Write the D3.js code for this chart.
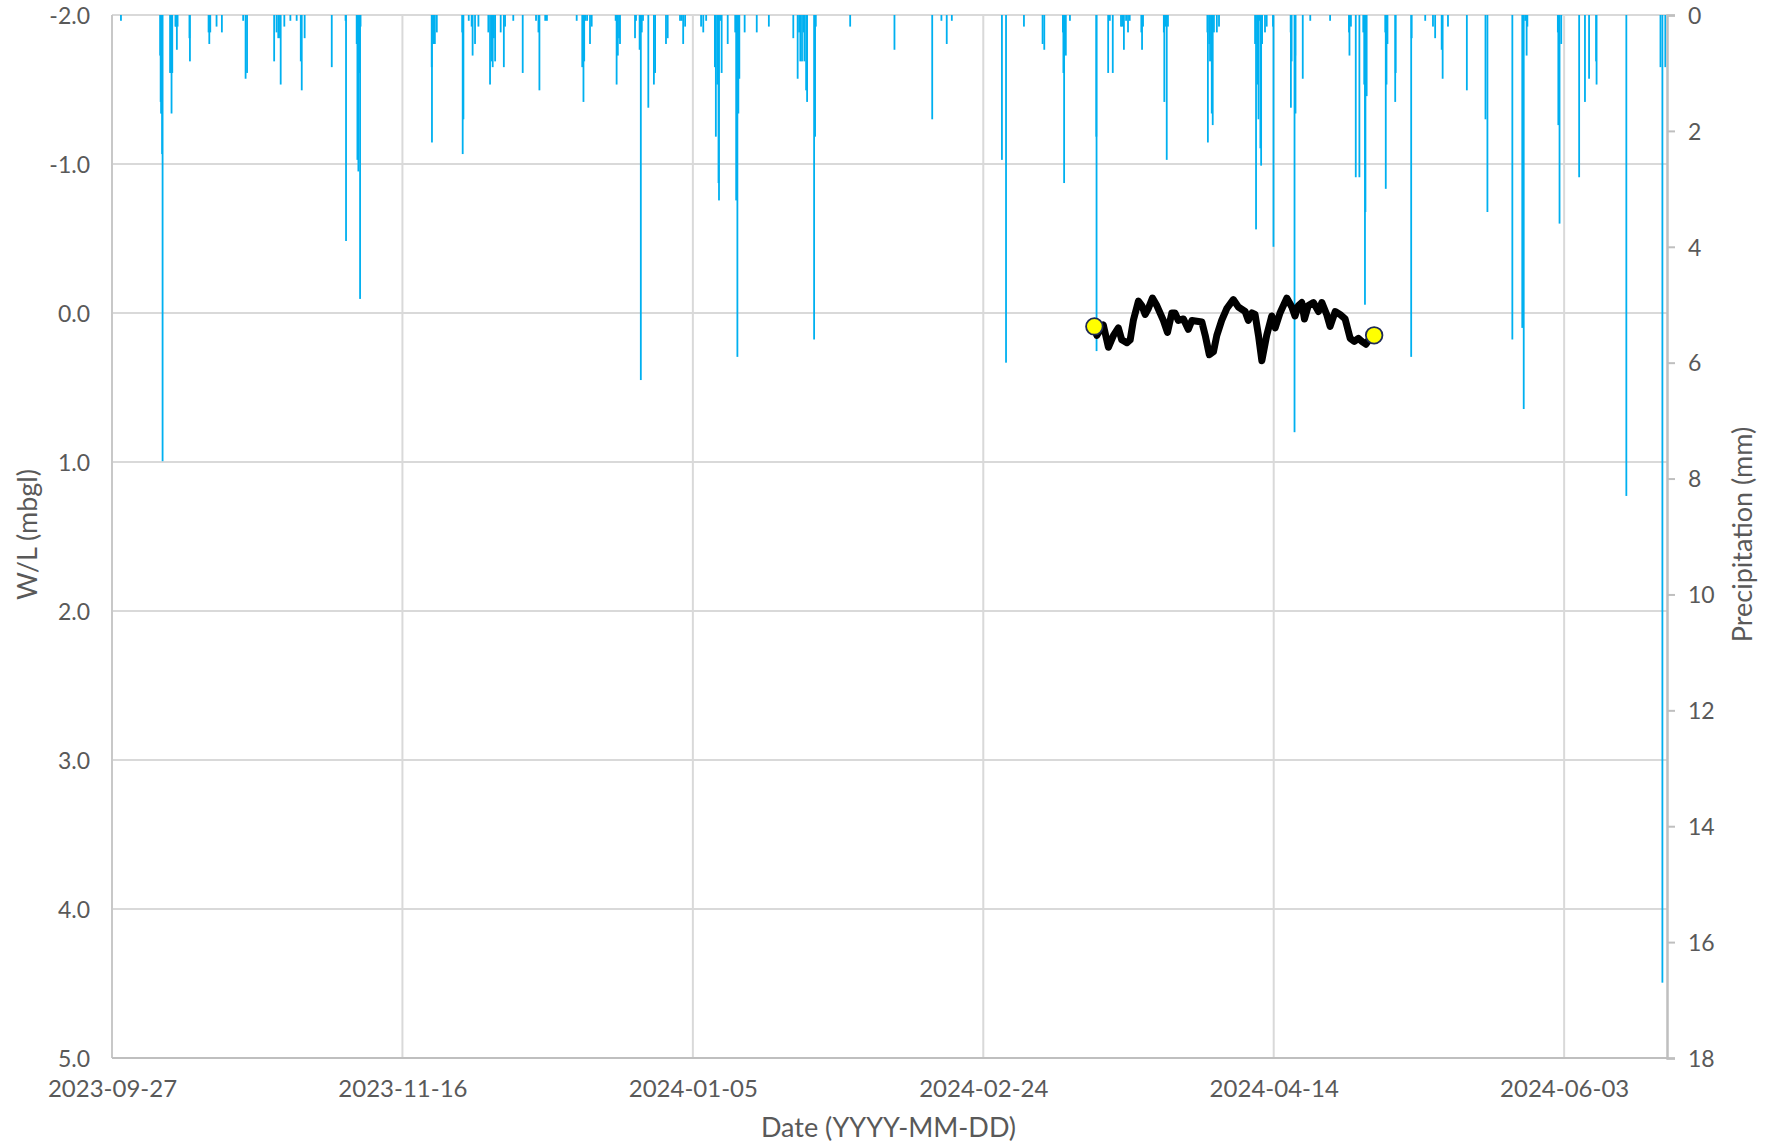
<!DOCTYPE html>
<html>
<head>
<meta charset="utf-8">
<script src="https://cdn.jsdelivr.net/npm/d3@7/dist/d3.min.js"></script>
<style>
  html, body { margin: 0; padding: 0; background: #ffffff; }
  svg { display: block; }
  text { font-family: Lato, "Open Sans", "DejaVu Sans", sans-serif; fill: #595959; }
</style>
</head>
<body>
<svg id="chart" width="1772" height="1147"></svg>
<script>
// ---- Hourly precipitation (mm) ----
const precipTimes = [
  "2023-09-28 13:00","2023-10-05 07:00","2023-10-05 09:00","2023-10-05 11:00","2023-10-05 13:00",
  "2023-10-05 15:00","2023-10-05 17:00","2023-10-07 00:00","2023-10-07 03:00","2023-10-07 06:00",
  "2023-10-07 09:00","2023-10-07 22:00","2023-10-08 01:00","2023-10-08 04:00","2023-10-08 07:00",
  "2023-10-10 08:00","2023-10-10 10:00","2023-10-13 15:00","2023-10-13 18:00","2023-10-13 22:00",
  "2023-10-15 00:00","2023-10-15 22:00","2023-10-19 14:00","2023-10-20 00:00","2023-10-20 06:00",
  "2023-10-24 22:00","2023-10-25 08:00","2023-10-25 15:00","2023-10-25 22:00","2023-10-26 01:00",
  "2023-10-26 16:00","2023-10-27 17:00","2023-10-28 19:00","2023-10-29 12:00","2023-10-29 16:00",
  "2023-10-30 04:00","2023-11-03 20:00","2023-11-06 05:00","2023-11-06 07:00","2023-11-08 03:00",
  "2023-11-08 06:00","2023-11-08 10:00","2023-11-08 14:00","2023-11-08 17:00","2023-11-08 19:00",
  "2023-11-21 01:00","2023-11-21 02:00","2023-11-21 07:00","2023-11-21 14:00","2023-11-21 22:00",
  "2023-11-26 07:00","2023-11-26 09:00","2023-11-26 12:00","2023-11-27 10:00","2023-11-27 22:00",
  "2023-11-28 02:00","2023-11-28 12:00","2023-11-29 02:00","2023-11-30 19:00","2023-12-01 02:00",
  "2023-12-01 09:00","2023-12-01 13:00","2023-12-01 18:00","2023-12-01 23:00","2023-12-02 22:00",
  "2023-12-03 11:00","2023-12-03 16:00","2023-12-05 02:00","2023-12-06 17:00","2023-12-09 00:00",
  "2023-12-09 10:00","2023-12-09 14:00","2023-12-10 14:00","2023-12-10 21:00","2023-12-16 00:00",
  "2023-12-16 23:00","2023-12-17 04:00","2023-12-17 07:00","2023-12-17 12:00","2023-12-17 19:00",
  "2023-12-18 07:00","2023-12-18 14:00","2023-12-22 17:00","2023-12-22 21:00","2023-12-23 02:00",
  "2023-12-23 07:00","2023-12-23 11:00","2023-12-26 01:00","2023-12-26 05:00","2023-12-26 20:00",
  "2023-12-27 01:00","2023-12-27 05:00","2023-12-27 10:00","2023-12-28 08:00","2023-12-29 07:00",
  "2023-12-29 12:00","2023-12-31 09:00","2023-12-31 16:00","2024-01-02 19:00","2024-01-03 02:00",
  "2024-01-03 08:00","2024-01-03 16:00","2024-01-06 10:00","2024-01-06 19:00","2024-01-07 07:00",
  "2024-01-08 19:00","2024-01-08 23:00","2024-01-09 05:00","2024-01-09 10:00","2024-01-09 12:00",
  "2024-01-09 17:00","2024-01-09 23:00","2024-01-11 00:00","2024-01-12 07:00","2024-01-12 11:00",
  "2024-01-12 16:00","2024-01-12 20:00","2024-01-13 00:00","2024-01-13 22:00","2024-01-16 00:00",
  "2024-01-18 02:00","2024-01-22 07:00","2024-01-23 01:00","2024-01-23 07:00","2024-01-23 12:00",
  "2024-01-23 19:00","2024-01-24 02:00","2024-01-24 05:00","2024-01-24 12:00","2024-01-24 16:00",
  "2024-01-25 21:00","2024-01-26 01:00","2024-01-26 04:00","2024-02-01 02:00","2024-02-08 17:00",
  "2024-02-15 05:00","2024-02-16 19:00","2024-02-17 17:00","2024-02-18 14:00","2024-02-27 05:00",
  "2024-02-27 22:00","2024-03-02 00:00","2024-03-05 05:00","2024-03-05 12:00","2024-03-08 17:00",
  "2024-03-08 19:00","2024-03-08 22:00","2024-03-09 05:00","2024-03-09 22:00","2024-03-14 11:00",
  "2024-03-14 12:00","2024-03-16 12:00","2024-03-16 19:00","2024-03-17 07:00","2024-03-18 17:00",
  "2024-03-18 22:00","2024-03-19 05:00","2024-03-19 14:00","2024-03-19 22:00","2024-03-20 05:00",
  "2024-03-22 05:00","2024-03-22 08:00","2024-03-22 12:00","2024-03-26 02:00","2024-03-26 04:00",
  "2024-03-26 10:00","2024-03-26 14:00","2024-03-26 19:00","2024-04-02 14:00","2024-04-02 16:00",
  "2024-04-02 22:00","2024-04-03 01:00","2024-04-03 08:00","2024-04-03 12:00","2024-04-03 17:00",
  "2024-04-04 05:00","2024-04-04 14:00","2024-04-10 19:00","2024-04-10 23:00","2024-04-11 05:00",
  "2024-04-11 09:00","2024-04-11 14:00","2024-04-11 17:00","2024-04-11 20:00","2024-04-12 00:00",
  "2024-04-12 12:00","2024-04-12 19:00","2024-04-13 21:00","2024-04-13 23:00","2024-04-16 22:00",
  "2024-04-16 23:00","2024-04-17 02:00","2024-04-17 14:00","2024-04-17 17:00","2024-04-17 18:00",
  "2024-04-19 00:00","2024-04-20 07:00","2024-04-23 17:00","2024-04-26 23:00","2024-04-27 01:00",
  "2024-04-27 07:00","2024-04-28 03:00","2024-04-28 18:00","2024-04-29 10:00","2024-04-29 14:00",
  "2024-04-29 17:00","2024-04-29 19:00","2024-04-30 00:00","2024-05-03 05:00","2024-05-03 07:00",
  "2024-05-03 10:00","2024-05-03 14:00","2024-05-04 22:00","2024-05-05 00:00","2024-05-07 16:00",
  "2024-05-07 18:00","2024-05-10 02:00","2024-05-11 10:00","2024-05-11 19:00","2024-05-12 22:00",
  "2024-05-13 02:00","2024-05-14 00:00","2024-05-17 06:00","2024-05-20 11:00","2024-05-20 19:00",
  "2024-05-25 02:00","2024-05-26 19:00","2024-05-27 01:00","2024-05-27 07:00","2024-05-27 13:00",
  "2024-05-27 16:00","2024-06-01 22:00","2024-06-02 00:00","2024-06-02 05:00","2024-06-02 12:00",
  "2024-06-05 14:00","2024-06-06 14:00","2024-06-07 07:00","2024-06-08 12:00","2024-06-08 14:00",
  "2024-06-13 17:00","2024-06-19 14:00","2024-06-19 22:00","2024-06-20 10:00"
];
const precipMM = [
  0.1,0.7,1.5,1.7,1.7,
  2.4,7.7,1.0,1.0,1.7,
  1.0,0.2,0.2,0.6,0.2,
  0.4,0.8,0.3,0.5,0.3,
  0.2,0.3,0.1,1.1,1.0,
  0.8,0.3,0.4,0.4,1.2,
  0.2,0.1,0.1,0.8,1.3,
  0.4,0.9,0.1,3.9,0.5,
  2.5,2.7,1.0,4.9,0.2,
  0.9,2.2,0.5,0.5,0.3,
  0.3,2.4,1.8,0.1,0.2,
  0.7,0.5,0.2,0.3,1.2,
  0.8,0.9,0.4,0.8,0.3,
  0.9,0.2,0.1,1.0,0.1,
  0.3,1.3,0.1,0.1,0.1,
  0.9,1.5,0.8,0.1,0.1,
  0.5,0.2,0.1,1.2,0.7,
  0.4,0.5,0.4,0.1,0.6,
  6.3,0.3,0.1,1.6,1.2,
  1.0,0.5,0.4,0.1,0.1,
  0.5,0.2,0.2,0.3,0.1,
  0.9,2.1,1.2,2.9,3.2,
  0.1,1.0,0.5,0.3,3.2,
  5.9,1.7,1.1,0.3,0.3,
  0.2,0.4,1.1,0.3,0.8,
  0.8,0.3,0.8,1.3,1.5,
  5.6,2.1,0.2,0.2,0.6,
  1.8,0.1,0.5,0.1,2.5,
  6.0,0.2,0.5,0.6,0.3,
  1.0,2.9,0.7,0.1,2.1,
  5.8,1.0,0.1,1.0,0.2,
  0.2,0.6,0.1,0.3,0.1,
  0.3,0.6,0.2,0.3,1.5,
  0.2,2.5,0.2,0.3,2.2,
  0.5,0.8,1.7,1.9,0.3,
  0.3,0.2,0.5,3.7,1.2,
  1.8,0.1,2.3,2.6,0.5,
  0.3,0.2,0.2,4.0,0.3,
  1.6,0.8,7.2,0.7,1.7,
  1.1,0.1,0.1,0.3,0.7,
  0.2,2.8,2.8,0.3,1.2,
  5.0,3.4,1.4,0.3,3.0,
  1.2,0.5,1.5,1.0,5.9,
  0.4,0.1,0.2,0.4,0.6,
  1.1,0.2,1.3,1.8,3.4,
  5.6,5.4,6.8,0.1,0.7,
  0.2,0.3,1.9,3.6,0.5,
  2.8,1.5,1.1,0.8,1.2,
  8.3,0.9,16.7,0.9
];

// ---- Water level below ground (m) ----
const levelTimes = [
  "2024-03-14 03:00","2024-03-14 13:00","2024-03-15 16:00","2024-03-16 13:00","2024-03-17 10:00",
  "2024-03-18 06:00","2024-03-18 20:00","2024-03-19 17:00","2024-03-20 07:00","2024-03-20 20:00",
  "2024-03-21 17:00","2024-03-22 07:00","2024-03-22 21:00","2024-03-23 10:00","2024-03-24 03:00",
  "2024-03-24 21:00","2024-03-26 00:00","2024-03-26 17:00","2024-03-27 11:00","2024-03-28 00:00",
  "2024-03-28 14:00","2024-03-29 11:00","2024-03-30 07:00","2024-03-30 22:00","2024-04-01 15:00",
  "2024-04-02 05:00","2024-04-02 22:00","2024-04-03 15:00","2024-04-04 05:00","2024-04-05 01:00",
  "2024-04-05 22:00","2024-04-07 01:00","2024-04-07 22:00","2024-04-09 02:00","2024-04-09 15:00",
  "2024-04-10 06:00","2024-04-10 19:00","2024-04-11 09:00","2024-04-11 23:00","2024-04-12 19:00",
  "2024-04-13 16:00","2024-04-14 06:00","2024-04-15 02:00","2024-04-16 06:00","2024-04-17 03:00",
  "2024-04-17 16:00","2024-04-18 06:00","2024-04-18 20:00","2024-04-19 07:00","2024-04-19 23:00",
  "2024-04-20 20:00","2024-04-21 17:00","2024-04-22 07:00","2024-04-23 03:00","2024-04-23 17:00",
  "2024-04-24 14:00","2024-04-25 10:00","2024-04-26 07:00","2024-04-27 04:00","2024-04-27 21:00",
  "2024-04-28 14:00","2024-04-29 04:00","2024-04-29 21:00","2024-04-30 14:00","2024-05-01 07:00"
];
const levelMbgl = [
  0.09,0.15,0.08,0.23,0.15,
  0.10,0.18,0.20,0.18,0.05,
  -0.08,-0.05,0.01,-0.03,-0.10,
  -0.05,0.05,0.13,0.00,0.00,
  0.05,0.04,0.11,0.05,0.06,
  0.15,0.28,0.26,0.15,0.05,
  -0.03,-0.09,-0.04,-0.01,0.05,
  0.00,0.01,0.15,0.32,0.15,
  0.02,0.10,0.00,-0.10,-0.04,
  0.02,-0.05,-0.07,0.04,-0.05,
  -0.07,-0.01,-0.07,0.01,0.09,
  -0.01,0.01,0.04,0.17,0.19,
  0.17,0.19,0.21,0.17,0.15
];

// ---- Axis settings ----
const xTickLabels = ["2023-09-27","2023-11-16","2024-01-05","2024-02-24","2024-04-14","2024-06-03"];
const xDomain = ["2023-09-27 00:00", "2024-06-20 17:00"];
const levelTicks = [-2, -1, 0, 1, 2, 3, 4, 5];
const precipTicks = [0, 2, 4, 6, 8, 10, 12, 14, 16, 18];
const xTitle = "Date (YYYY-MM-DD)";
const levelTitle = "W/L (mbgl)";
const precipTitle = "Precipitation (mm)";

// ---- Layout ----
const plot = { left: 112, right: 1667, top: 15, bottom: 1058 };
const parseTime = d3.timeParse("%Y-%m-%d %H:%M");
const parseDay = d3.timeParse("%Y-%m-%d");

const svg = d3.select("#chart");

const x = d3.scaleTime()
  .domain(xDomain.map(parseTime))
  .range([plot.left, plot.right]);
const yLevel = d3.scaleLinear()
  .domain([levelTicks[0], levelTicks[levelTicks.length - 1]])
  .range([plot.top, plot.bottom]);
const yPrecip = d3.scaleLinear()
  .domain([precipTicks[0], precipTicks[precipTicks.length - 1]])
  .range([plot.top, plot.bottom]);

const xTickDates = xTickLabels.map(parseDay);

// Gridlines
const grid = svg.append("g").attr("class", "grid");
grid.selectAll("line.h").data(levelTicks).join("line")
  .attr("class", "h")
  .attr("x1", plot.left).attr("x2", plot.right)
  .attr("y1", d => yLevel(d)).attr("y2", d => yLevel(d))
  .attr("stroke", "#d9d9d9").attr("stroke-width", 2);
grid.selectAll("line.v").data(xTickDates.slice(1)).join("line")
  .attr("class", "v")
  .attr("x1", d => x(d)).attr("x2", d => x(d))
  .attr("y1", plot.top).attr("y2", plot.bottom)
  .attr("stroke", "#d9d9d9").attr("stroke-width", 2);

// Precipitation bars hanging from the top edge
const precip = precipTimes.map((t, i) => ({ t: parseTime(t), v: precipMM[i] }));
svg.append("g").attr("class", "precip")
  .selectAll("rect").data(precip).join("rect")
  .attr("x", d => x(d.t) - 0.9)
  .attr("width", 1.8)
  .attr("y", yPrecip(0))
  .attr("height", d => yPrecip(d.v) - yPrecip(0))
  .attr("fill", "#00b0f0");

// Axis lines
svg.append("line")
  .attr("x1", plot.left).attr("x2", plot.left)
  .attr("y1", plot.top).attr("y2", plot.bottom)
  .attr("stroke", "#c8c8c8").attr("stroke-width", 2);
svg.append("line")
  .attr("x1", plot.left).attr("x2", plot.right + 1)
  .attr("y1", plot.bottom).attr("y2", plot.bottom)
  .attr("stroke", "#bfbfbf").attr("stroke-width", 2);

// Left axis (water level)
const axisL = svg.append("g")
  .attr("transform", `translate(${plot.left},0)`)
  .call(d3.axisLeft(yLevel).tickValues(levelTicks).tickSize(0).tickPadding(22)
    .tickFormat(d => d.toFixed(1)));
axisL.select(".domain").remove();
axisL.selectAll("text")
  .style("font-size", "23px").attr("fill", "#595959").attr("dy", "0.36em");

// Right axis (precipitation)
const axisR = svg.append("g")
  .attr("transform", `translate(${plot.right},0)`)
  .call(d3.axisRight(yPrecip).tickValues(precipTicks).tickSize(8).tickPadding(13)
    .tickFormat(d3.format("d")));
axisR.select(".domain").attr("stroke", "#bfbfbf").attr("stroke-width", 2.5);
axisR.selectAll(".tick line").attr("stroke", "#bfbfbf").attr("stroke-width", 2);
axisR.selectAll("text")
  .style("font-size", "23px").attr("fill", "#595959").attr("dy", "0.36em");

// Bottom axis (dates)
const axisB = svg.append("g")
  .attr("transform", `translate(0,${plot.bottom})`)
  .call(d3.axisBottom(x).tickValues(xTickDates).tickSize(0).tickPadding(22)
    .tickFormat(d3.timeFormat("%Y-%m-%d")));
axisB.select(".domain").remove();
axisB.selectAll("text")
  .style("font-size", "24px").attr("fill", "#595959");

// Water level line
const level = levelTimes.map((t, i) => ({ t: parseTime(t), v: levelMbgl[i] }));
const line = d3.line().x(d => x(d.t)).y(d => yLevel(d.v));
svg.append("path")
  .datum(level)
  .attr("d", line)
  .attr("fill", "none")
  .attr("stroke", "#000000")
  .attr("stroke-width", 7)
  .attr("stroke-linejoin", "round")
  .attr("stroke-linecap", "round");

// First and last readings
svg.append("g").selectAll("circle")
  .data([level[0], level[level.length - 1]]).join("circle")
  .attr("cx", d => x(d.t)).attr("cy", d => yLevel(d.v))
  .attr("r", 8.3)
  .attr("fill", "#ffff00")
  .attr("stroke", "#1f2a55")
  .attr("stroke-width", 1.8);

// Axis titles
svg.append("text")
  .attr("x", (plot.left + plot.right) / 2 - 1)
  .attr("y", 1137)
  .attr("text-anchor", "middle")
  .style("font-size", "27px")
  .text(xTitle);
svg.append("text")
  .attr("transform", `translate(37,${(plot.top + plot.bottom) / 2 - 2}) rotate(-90)`)
  .attr("text-anchor", "middle")
  .style("font-size", "27px")
  .text(levelTitle);
svg.append("text")
  .attr("transform", `translate(1752,${(plot.top + plot.bottom) / 2 - 2}) rotate(-90)`)
  .attr("text-anchor", "middle")
  .style("font-size", "27px")
  .text(precipTitle);
</script>
</body>
</html>
